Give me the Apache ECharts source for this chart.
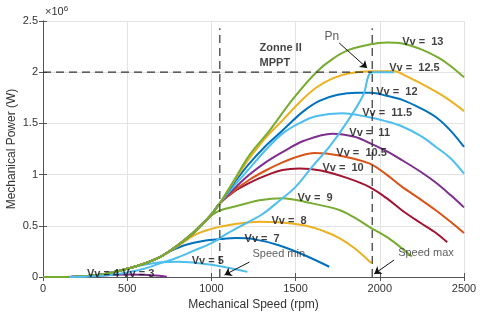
<!DOCTYPE html>
<html>
<head>
<meta charset="utf-8">
<script src="https://cdn.jsdelivr.net/npm/echarts@6/dist/echarts.min.js"></script>
<style>html,body{margin:0;padding:0;background:#fff}#c{width:480px;height:317px}</style>
</head>
<body>
<div id="c"></div>
<script>
// Mechanical power (x10^6 W) vs mechanical speed (rpm)
const vv3  = [[0,0],[200,0.003],[300,0.01],[400,0.02],[500,0.025],[600,0.022],[700,0.01],[735,0.003]];
const vv5  = [[0,0],[200,0.003],[300,0.015],[400,0.04],[500,0.08],[600,0.12],[700,0.145],[800,0.15],[900,0.14],[1000,0.12],[1100,0.09],[1214,0.05]];
const vv7  = [[0,0],[200,0.003],[300,0.015],[400,0.04],[500,0.08],[600,0.13],[700,0.2],[760,0.255],[850,0.315],[950,0.352],[1050,0.37],[1150,0.38],[1250,0.37],[1400,0.31],[1550,0.215],[1700,0.1]];
const vv8  = [[0,0],[200,0.003],[300,0.015],[400,0.04],[500,0.08],[600,0.13],[700,0.2],[800,0.3],[900,0.41],[1000,0.47],[1050,0.49],[1150,0.52],[1285,0.54],[1400,0.535],[1564,0.5],[1680,0.44],[1760,0.38],[1850,0.28],[1949,0.137]];
const vv9  = [[0,0],[200,0.003],[300,0.015],[400,0.04],[500,0.08],[600,0.13],[700,0.2],[800,0.31],[900,0.45],[950,0.53],[1000,0.6],[1050,0.65],[1167,0.7],[1285,0.75],[1422,0.77],[1564,0.73],[1760,0.655],[1850,0.58],[1937,0.49],[2060,0.37],[2190,0.2]];
const vv10 = [[0,0],[200,0.003],[300,0.015],[400,0.04],[500,0.08],[600,0.13],[700,0.2],[800,0.31],[900,0.44],[1000,0.61],[1050,0.72],[1140,0.84],[1226,0.92],[1322,0.99],[1422,1.045],[1522,1.06],[1650,1.04],[1800,0.97],[1937,0.88],[2040,0.77],[2133,0.65],[2240,0.53],[2334,0.43],[2400,0.34]];
const vv105= [[0,0],[200,0.003],[300,0.015],[400,0.04],[500,0.08],[600,0.13],[700,0.2],[800,0.31],[900,0.44],[1000,0.61],[1050,0.72],[1140,0.85],[1226,0.95],[1322,1.04],[1422,1.12],[1520,1.18],[1611,1.21],[1750,1.19],[1937,1.11],[2040,1.0],[2133,0.88],[2240,0.76],[2334,0.65],[2420,0.54],[2500,0.43]];
const vv11 = [[0,0],[200,0.003],[300,0.015],[400,0.04],[500,0.08],[600,0.13],[700,0.2],[800,0.31],[900,0.44],[1000,0.61],[1050,0.72],[1140,0.87],[1226,1.0],[1322,1.12],[1422,1.22],[1550,1.33],[1718,1.4],[1850,1.37],[1937,1.31],[2040,1.23],[2133,1.14],[2240,1.03],[2334,0.92],[2420,0.8],[2500,0.68]];
const vv115= [[0,0],[200,0.003],[300,0.015],[400,0.04],[500,0.08],[600,0.13],[700,0.2],[800,0.31],[900,0.44],[1000,0.61],[1050,0.72],[1140,0.9],[1226,1.06],[1322,1.24],[1422,1.4],[1520,1.5],[1620,1.57],[1777,1.6],[1937,1.56],[2040,1.52],[2133,1.47],[2240,1.38],[2334,1.27],[2420,1.16],[2500,1.01]];
const vv12 = [[0,0],[200,0.003],[300,0.015],[400,0.04],[500,0.08],[600,0.13],[700,0.2],[800,0.31],[900,0.44],[1000,0.61],[1050,0.72],[1140,0.93],[1226,1.11],[1322,1.28],[1422,1.43],[1540,1.61],[1641,1.72],[1750,1.78],[1866,1.8],[1950,1.8],[2040,1.77],[2133,1.73],[2240,1.65],[2334,1.56],[2420,1.43],[2500,1.27]];
const vv125= [[0,0],[200,0.003],[300,0.015],[400,0.04],[500,0.08],[600,0.13],[700,0.2],[800,0.31],[900,0.44],[1000,0.61],[1050,0.72],[1140,0.95],[1226,1.16],[1322,1.36],[1422,1.53],[1520,1.7],[1623,1.85],[1720,1.94],[1819,1.99],[1955,2.01],[2085,2.01],[2160,1.96],[2233,1.9],[2334,1.81],[2420,1.72],[2500,1.62]];
const vv13 = [[0,0],[200,0.003],[300,0.015],[400,0.04],[500,0.08],[600,0.13],[700,0.2],[800,0.31],[900,0.44],[1000,0.61],[1050,0.72],[1140,0.96],[1226,1.19],[1345,1.43],[1480,1.73],[1623,2.0],[1720,2.13],[1819,2.22],[1937,2.27],[2040,2.29],[2133,2.28],[2250,2.22],[2350,2.14],[2420,2.06],[2500,1.95]];
const mppt = [[160,0],[300,0.008],[400,0.02],[500,0.045],[600,0.08],[700,0.135],[800,0.19],[900,0.26],[1000,0.33],[1100,0.43],[1200,0.52],[1300,0.61],[1400,0.74],[1500,0.88],[1600,1.08],[1700,1.27],[1800,1.5],[1900,1.77],[1955,2.0],[2085,2.0]];

const curveNames  = ['Vv = 3','Vv = 5','Vv = 7','Vv = 8','Vv = 9','Vv = 10','Vv = 10.5','Vv = 11','Vv = 11.5','Vv = 12','Vv = 12.5','Vv = 13','MPPT'];
const curveData   = [vv3, vv5, vv7, vv8, vv9, vv10, vv105, vv11, vv115, vv12, vv125, vv13, mppt];
const curveColors = ['#7E2F8E','#4DBEEE','#0072BD','#EDB120','#77AC30','#A2142F','#D95319','#7E2F8E','#4DBEEE','#0072BD','#EDB120','#77AC30','#4DBEEE'];

// reference lines: speed min, speed max, rated power
const speedMin = 1050, speedMax = 1955, ratedPower = 2.0, dashTop = 2.43;

// text annotations [rpm, power, text, bold]
const notes = [
  [1286, 2.236, 'Zonne II', true],
  [1286, 2.09, 'MPPT', true],
  [1671, 2.344, 'Pn', false],
  [2133, 2.295, 'Vv =  13', true],
  [2056, 2.04, 'Vv =  12.5', true],
  [1979, 1.807, 'Vv =  12', true],
  [1896, 1.60, 'Vv =  11.5', true],
  [1819, 1.406, 'Vv =  11', true],
  [1742, 1.21, 'Vv =  10.5', true],
  [1659, 1.064, 'Vv =  10', true],
  [1511, 0.771, 'Vv =  9', true],
  [1357, 0.547, 'Vv =  8', true],
  [1197, 0.371, 'Vv =  7', true],
  [883, 0.156, 'Vv = 5', true],
  [261, 0.03, 'Vv = 4', true],
  [470, 0.03, 'Vv = 3', true],
  [1244, 0.225, 'Speed min', false],
  [2109, 0.234, 'Speed max', false]
];
// arrows [from, to]
const arrows = [
  [[1759, 2.285], [1925, 2.04]],
  [[1226, 0.146], [1078, 0.02]],
  [[2085, 0.166], [1967, 0.03]]
];

const FONT = 'Liberation Sans, Arial, Helvetica, sans-serif';
const series = [];
curveData.forEach((d, i) => {
  series.push({
    type: 'line', name: curveNames[i], data: d, showSymbol: false, smooth: 0.35,
    lineStyle: { width: 2, color: curveColors[i] }, itemStyle: { color: curveColors[i] },
    silent: true, z: 2
  });
});
const dash = { color: '#333', width: 1.2, type: [8, 5] };
series.push({ type: 'line', data: [[speedMin, 0], [speedMin, dashTop]], showSymbol: false, lineStyle: dash, z: 3, silent: true });
series.push({ type: 'line', data: [[speedMax, 0], [speedMax, dashTop]], showSymbol: false, lineStyle: dash, z: 3, silent: true });
series.push({ type: 'line', data: [[0, ratedPower], [speedMax, ratedPower]], showSymbol: false, lineStyle: dash, z: 3, silent: true });
series.push({
  type: 'lines', coordinateSystem: 'cartesian2d', z: 4, silent: true,
  symbol: ['none', 'arrow'], symbolSize: 7,
  lineStyle: { color: '#111', width: 1, opacity: 1 },
  data: arrows.map(a => ({ coords: a }))
});
series.push({
  type: 'scatter', symbolSize: 0, z: 5, silent: true,
  data: notes.map(n => ({
    value: [n[0], n[1]],
    label: {
      show: true, position: 'right', distance: 0, formatter: n[2],
      fontFamily: FONT, fontSize: n[2] === 'Pn' ? 12 : 11, fontWeight: n[3] ? 'bold' : 'normal',
      color: n[3] ? '#111' : '#333'
    }
  }))
});

const axisCommon = {
  axisLine: { show: true, lineStyle: { color: '#555', width: 1 } },
  axisTick: { show: true, inside: true, length: 4, lineStyle: { color: '#555' } },
};
const plain = v => String(v);

const chart = echarts.init(document.getElementById('c'), null, { renderer: 'canvas' });
chart.setOption({
  animation: false,
  backgroundColor: '#fff',
  grid: { left: 43, right: 16, top: 21, bottom: 40, containLabel: false, outerBoundsMode: 'none' },
  xAxis: [
    Object.assign({
      type: 'value', min: 0, max: 2500, interval: 500,
      name: 'Mechanical Speed (rpm)', nameLocation: 'middle', nameGap: 22, nameMoveOverlap: false,
      nameTextStyle: { fontFamily: FONT, fontSize: 12, color: '#333' },
      axisLabel: { fontFamily: FONT, fontSize: 11, color: '#333', margin: 6, formatter: plain },
      splitLine: { show: true, lineStyle: { color: '#e3e3e3', width: 1 } }
    }, axisCommon),
    Object.assign({
      type: 'value', min: 0, max: 2500, interval: 500, position: 'top',
      axisLabel: { show: false }, splitLine: { show: false }
    }, axisCommon)
  ],
  yAxis: [
    Object.assign({
      type: 'value', min: 0, max: 2.5, interval: 0.5,
      name: 'Mechanical Power (W)', nameLocation: 'middle', nameGap: 25, nameMoveOverlap: false,
      nameTextStyle: { fontFamily: FONT, fontSize: 12, color: '#333' },
      axisLabel: { fontFamily: FONT, fontSize: 11, color: '#333', margin: 5, formatter: plain },
      splitLine: { show: true, lineStyle: { color: '#e3e3e3', width: 1 } }
    }, axisCommon),
    Object.assign({
      type: 'value', min: 0, max: 2.5, interval: 0.5, position: 'right',
      axisLabel: { show: false }, splitLine: { show: false }
    }, axisCommon)
  ],
  graphic: [{
    type: 'text', left: 45, top: 5,
    style: {
      text: '{a|×10}{b|6}',
      rich: {
        a: { fontFamily: FONT, fontSize: 11, fill: '#333' },
        b: { fontFamily: FONT, fontSize: 8, fill: '#333', verticalAlign: 'top', padding: [0, 0, 6, 0] }
      }
    }
  }],
  series: series
});
</script>
</body>
</html>
